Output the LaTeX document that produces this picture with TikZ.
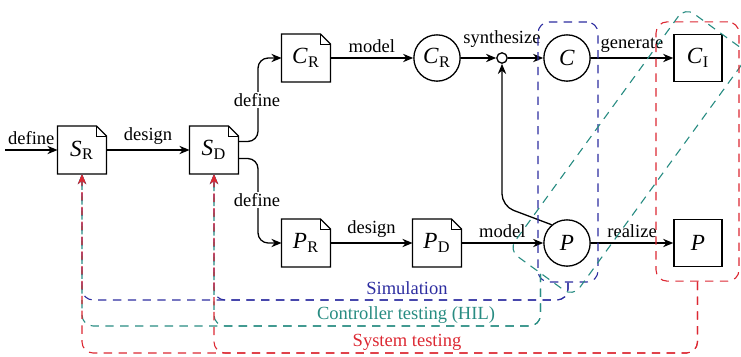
\documentclass[tikz,border=0pt]{standalone}
\usepackage{fontspec}
\setmainfont{Liberation Serif}
\usetikzlibrary{arrows.meta}

\definecolor{simblue}{RGB}{45,45,160}
\definecolor{hilteal}{RGB}{40,140,130}
\definecolor{systred}{RGB}{220,40,50}

\newcommand\sym[2]{\textit{#1}\kern0.02em\textsubscript{#2}}

\begin{document}
\begin{tikzpicture}[
    x=0.54pt, y=-0.54pt,
    font=\fontsize{10}{12}\selectfont,
    >={Stealth[length=5.5pt,width=4.5pt]},
    flow/.style={->, line width=0.7pt},
    docbox/.style={minimum width=26pt, minimum height=25.5pt, inner sep=0pt,
                   font=\fontsize{12.5}{14}\selectfont},
    plainbox/.style={draw, line width=0.7pt, minimum width=26pt, minimum height=25.5pt,
                     inner sep=0pt, font=\fontsize{12.5}{14}\selectfont},
    model/.style={draw, circle, line width=0.7pt, minimum size=25pt, inner sep=0pt,
                  font=\fontsize{12.5}{14}\selectfont},
    junction/.style={draw, circle, line width=0.7pt, minimum size=5.6pt, inner sep=0pt},
    elabel/.style={above, inner sep=2.5pt},
    onlabel/.style={fill=white, inner sep=1pt},
    region/.style={draw, dashed, line width=0.6pt, rounded corners=6pt,
                   dash pattern=on 4.5pt off 3.5pt},
    loop/.style={->, line width=0.6pt, rounded corners=6pt,
                 dash pattern=on 4.5pt off 3.5pt},
  ]
  \useasboundingbox (0,0) rectangle (741,356);

  % requirement / design documents
  \node[docbox] (SR)  at (82,150)  {\sym{S}{R}};
  \node[docbox] (SD)  at (214,150) {\sym{S}{D}};
  \node[docbox] (CRd) at (306,58)  {\sym{C}{R}};
  \node[docbox] (PR)  at (306,243) {\sym{P}{R}};
  \node[docbox] (PD)  at (437,243) {\sym{P}{D}};

  % document outline with folded corner
  \foreach \n in {SR,SD,CRd,PR,PD}{
    \draw[line width=0.7pt, line join=miter]
      (\n.south west) -- (\n.north west) -- ([xshift=-5.4pt]\n.north east)
      -- ([yshift=-5.4pt]\n.north east) -- (\n.south east) -- cycle;
    \draw[line width=0.5pt]
      ([xshift=-5.4pt]\n.north east) -- ([xshift=-5.4pt,yshift=-5.4pt]\n.north east)
      -- ([yshift=-5.4pt]\n.north east);
  }

  % models and implementations
  \node[model] (CRc) at (437,58)  {\sym{C}{R}};
  \node[junction, label={[inner sep=2.5pt]above:synthesize}] (sc) at (502,58) {};
  \node[model] (C)   at (567,58)  {\textit{C}};
  \node[plainbox] (CI) at (698,58) {\sym{C}{I}};
  \node[model] (P)   at (567,243) {\textit{P}};
  \node[plainbox] (Pb) at (698,243) {\textit{P}};

  % process flow
  \coordinate (in) at (5,150);
  \coordinate (split) at (258,150);
  \draw[flow] (in) -- node[elabel] {define} (SR);
  \draw[flow] (SR) -- node[elabel] {design} (SD);
  \draw[flow, rounded corners=5.5pt] ([yshift=4.6pt]SD.east) -| (split |- CRd) -- (CRd);
  \draw[flow, rounded corners=5.5pt] ([yshift=-4.6pt]SD.east) -| (split |- PR) -- (PR);
  \node[onlabel] (defC) at (257,100) {define};
  \node[onlabel] (defP) at (257,200) {define};
  \draw[flow] (CRd) -- node[elabel] {model} (CRc);
  \draw[flow] (CRc) -- (sc);
  \draw[flow] (sc) -- (C);
  \draw[flow] (C) -- node[elabel] {generate} (CI);
  \draw[flow] (PR) -- node[elabel] {design} (PD);
  \draw[flow] (PD) -- node[elabel] {model} (P);
  \draw[flow] (P) -- node[elabel] {realize} (Pb);
  \coordinate (bend) at (502,206);
  \draw[flow, rounded corners=6.5pt] (P.130) -- (bend) -- (sc);

  % test set-ups
  \node[region, draw=simblue, minimum width=32.4pt, minimum height=140.4pt] (sim) at (568,152) {};
  \node[region, draw=hilteal, minimum width=162pt, minimum height=43pt, rotate=54] (hil) at (629,152) {};
  \node[region, draw=systred, minimum width=44.8pt, minimum height=140pt] (sys) at (697.5,151.5) {};

  \coordinate (ysim) at (0,300);
  \coordinate (yhil) at (0,326);
  \coordinate (ysys) at (0,353);

  \draw[loop, simblue] (sim.south) |- (SR.south |- ysim) -- (SR.south);
  \draw[loop, simblue] (sim.south) |- (SD.south |- ysim) -- (SD.south);
  \draw[loop, hilteal] (hil.west) |- (SR.south |- yhil) -- (SR.south);
  \draw[loop, hilteal] (hil.west) |- (SD.south |- yhil) -- (SD.south);
  \draw[loop, systred] (sys.south) |- (SR.south |- ysys) -- (SR.south);
  \draw[loop, systred] (sys.south) |- (SD.south |- ysys) -- (SD.south);

  \node[text=simblue] (simlab) at (407,288) {Simulation};
  \node[text=hilteal] (hillab) at (406,315) {Controller testing (HIL)};
  \node[text=systred] (syslab) at (407,342) {System testing};
\end{tikzpicture}
\end{document}
